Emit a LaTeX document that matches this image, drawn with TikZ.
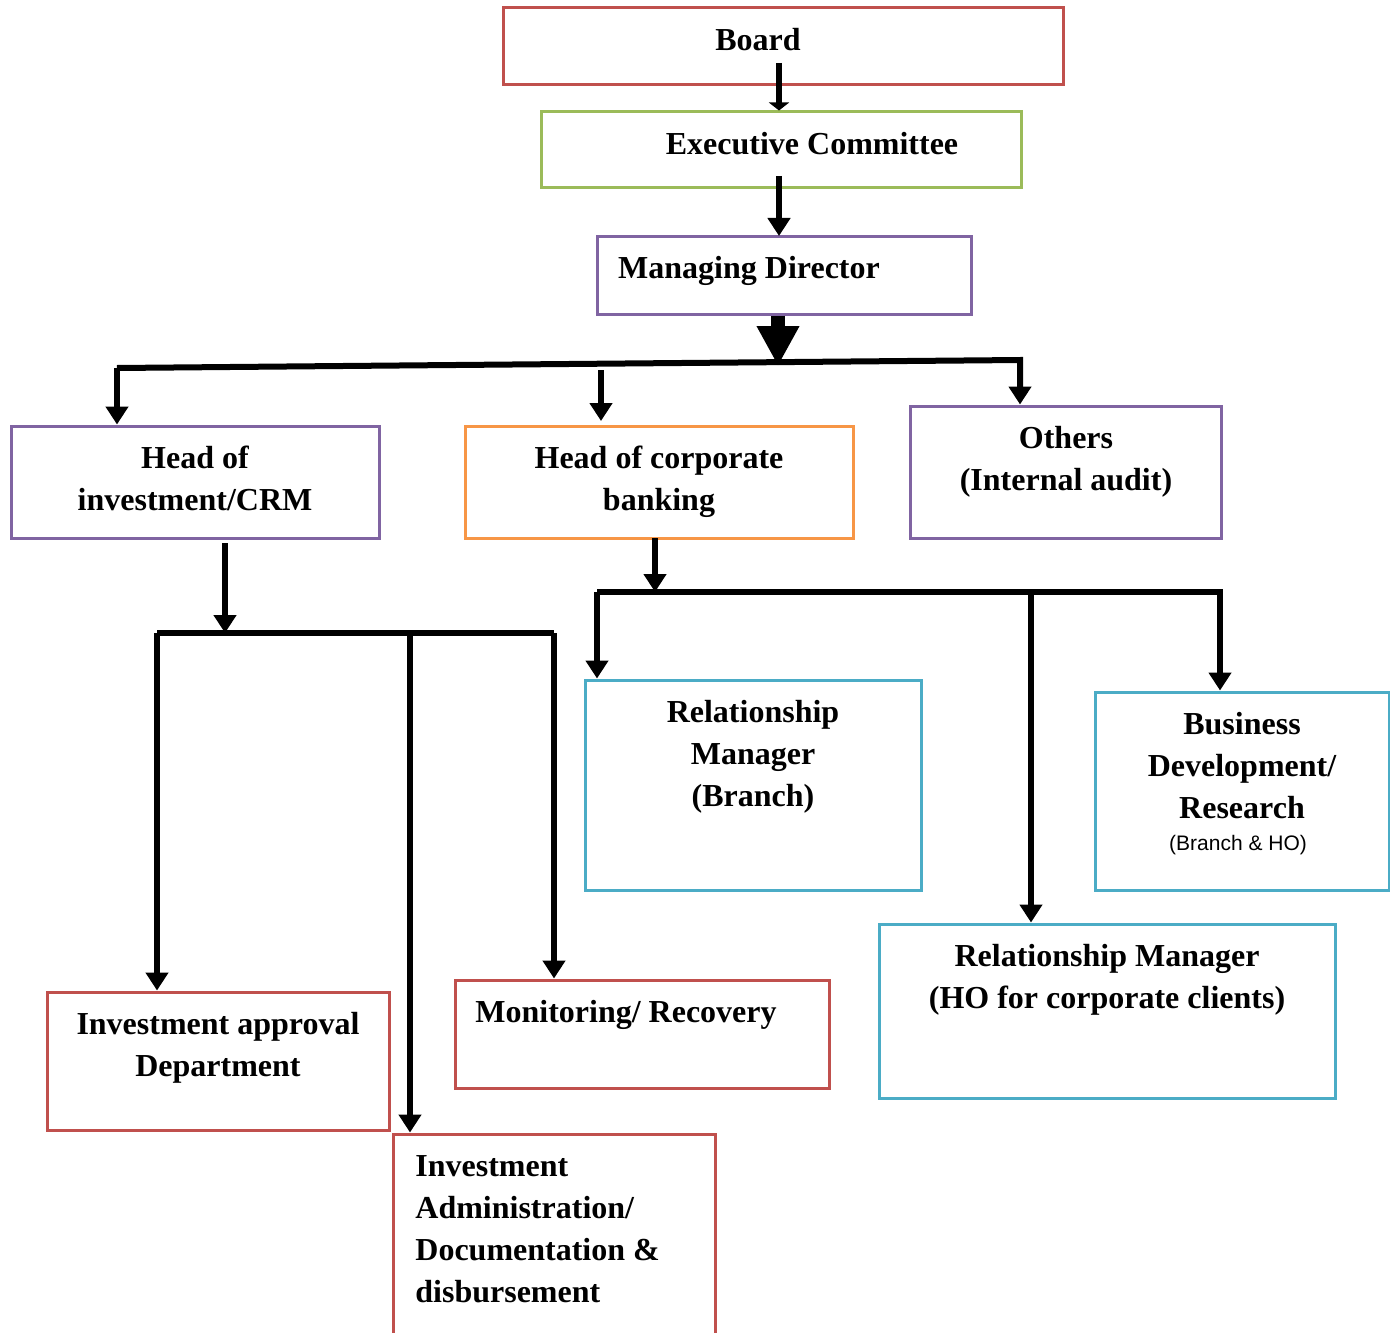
\documentclass[tikz,border=0pt]{standalone}
\usepackage{fontspec}
\setmainfont{Liberation Serif}
\newfontfamily\smallsans{Liberation Sans}
\usetikzlibrary{calc, positioning, arrows.meta}
\definecolor{boxred}{RGB}{192,80,77}
\definecolor{boxgreen}{RGB}{155,187,89}
\definecolor{boxpurple}{RGB}{128,100,162}
\definecolor{boxorange}{RGB}{247,150,70}
\definecolor{boxcyan}{RGB}{75,172,198}
\tikzset{
  box/.style={draw=#1, line width=1.5pt, inner sep=0pt, rectangle},
  lbl/.style={font=\fontsize{16}{21}\selectfont\bfseries, align=center, inner sep=0pt},
  arr/.style={line width=3pt, line join=miter, -{Triangle[width=11pt,length=9pt]}},
  bar/.style={line width=3pt, line join=miter},
}

\begin{document}
\begin{tikzpicture}[x=0.5pt, y=-0.5pt]
\useasboundingbox (0,0) rectangle (1390,1332);
	% Top of the chart
\node [box=boxred, minimum width=280pt, minimum height=38.5pt] (board) at (783,46.5) {};
\node [box=boxgreen, minimum width=240pt, minimum height=38pt] (exec) at (781,150) {};
\node [box=boxpurple, minimum width=187pt, minimum height=39pt] (md) at (784,275) {};
\node [lbl] (boardtxt) at (758,40) {Board};
\node [lbl] (exectxt) at (812,144) {Executive Committee};
\node [lbl] (mdtxt) at (749,271) {Managing Director};
\draw [line width=3pt, -{Triangle[width=10pt,length=4pt]}] (779,63) -- (exec.north -| 779,0);
\draw [arr] (779,176) -- (779,236);

	% Second level
\node [box=boxpurple, minimum width=184pt, minimum height=56pt] (hoi) at (195,482) {};
\node [box=boxorange, minimum width=194pt, minimum height=56pt] (hcb) at (659,482) {};
\node [box=boxpurple, minimum width=155.5pt, minimum height=66pt] (oth) at (1065.5,472) {};
\node [lbl] (hoitxt) at (195,478) {Head of\\investment/CRM};
\node [lbl] (hcbtxt) at (659,482) {Head of corporate\\banking};
\node [lbl] (othtxt) at (1066,462) {Others\\(Internal audit)};
\coordinate (tl) at (117,368);
\coordinate (tr) at (1020,360);
\coordinate (tm) at (601,370);
\draw [line width=7pt, -{Triangle[width=20pt,length=20pt]}] (md.south -| 778,0) -- (778,366);
\draw [arr] (tl) -- (tr) -- (oth.north -| tr);
\draw [arr] (tl) -- (tl |- hoi.north);
\draw [arr] (tm) -- (601,421);

	% Investment side
\node [box=boxred, minimum width=171pt, minimum height=69pt] (iap) at (218,1061) {};
\node [box=boxred, minimum width=187pt, minimum height=54pt] (mon) at (642,1034) {};
\node [box=boxred, minimum width=161pt, minimum height=108pt] (iadm) at (554,1242) {};
\node [lbl] (iaptxt) at (218,1048) {Investment approval\\Department};
\node [lbl] (montxt) at (626,1015) {Monitoring/ Recovery};
\node [lbl, align=left, anchor=west] (iadmtxt) at (415,1229.5) {Investment\\Administration/\\Documentation \&\\disbursement};
\coordinate (il) at (157,633);
\coordinate (im) at (410,633);
\coordinate (ir) at (554,633);
\draw [arr] (225,543) -- (225,633);
\draw [bar] (il) -- (ir);
\draw [arr] (il) -- (il |- iap.north);
\draw [arr] (im) -- (im |- iadm.north);
\draw [arr] (ir) -- (ir |- mon.north);

	% Corporate banking side
\node [box=boxcyan, minimum width=168pt, minimum height=105pt] (rmb) at (753,785) {};
\node [box=boxcyan, minimum width=147pt, minimum height=99pt] (bd) at (1242,791) {};
\node [box=boxcyan, minimum width=228pt, minimum height=87pt] (rmho) at (1107,1011) {};
\node [lbl] (rmbtxt) at (753,757) {Relationship\\Manager\\(Branch)};
\node [lbl] (bdtxt) at (1242,766) {Business\\Development/\\Research};
\node [font=\smallsans\fontsize{10.5}{12}\selectfont, inner sep=0pt] (bdnote) at (1238,845) {(Branch \& HO)};
\node [lbl] (rmhotxt) at (1107,980) {Relationship Manager\\(HO for corporate clients)};
\coordinate (cl) at (597,592);
\coordinate (cm) at (1031,592);
\coordinate (cr) at (1220,592);
\draw [arr] (655,538) -- (655,592);
\draw [arr] (cl) -- (cr) -- (cr |- bd.north);
\draw [arr] (cl) -- (cl |- rmb.north);
\draw [arr] (cm) -- (cm |- rmho.north);
\end{tikzpicture}
\end{document}
